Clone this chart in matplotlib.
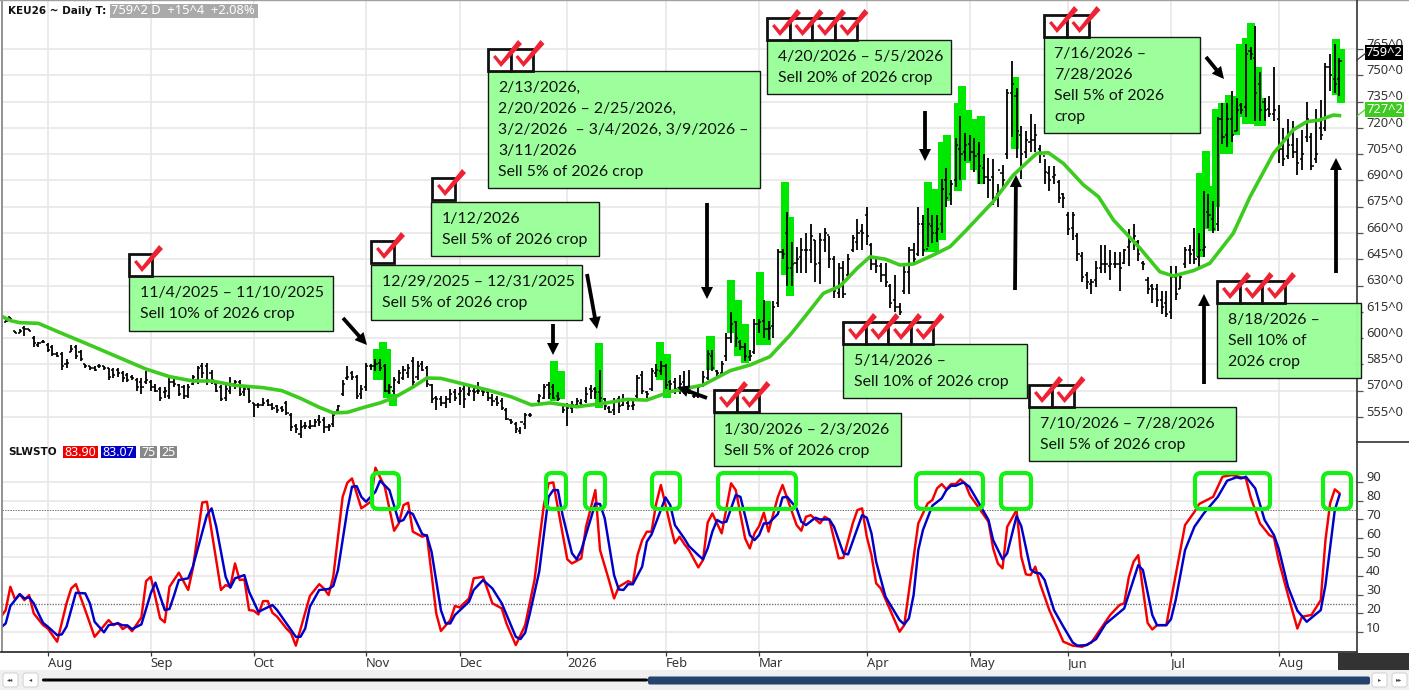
import matplotlib
matplotlib.use("Agg")
import matplotlib.pyplot as plt
from matplotlib.patches import Rectangle, FancyBboxPatch, Polygon
from matplotlib.transforms import ScaledTranslation

W, H = 1409, 690
FONT_BOX = "Lato"
FONT_UI = "Noto Sans"
FONT_BOLD = "DejaVu Sans"

# ------------------------------------------------------------------ data
month_idx = [10, 32, 54, 78, 98, 121, 142, 162, 185, 207, 228, 250, 273]
month_lbl = ["Aug", "Sep", "Oct", "Nov", "Dec", "2026", "Feb", "Mar", "Apr", "May", "Jun", "Jul", "Aug"]
price_ticks = [555, 570, 585, 600, 615, 630, 645, 660, 675, 690, 705, 720, 735, 750, 765]
stoch_ticks = [10, 20, 30, 40, 50, 60, 70, 80, 90]

highs = [609,612,612,604,605,607,605,601,598,599,
597,596,592,592,588,596,596,593,585,584,
584,585,584,583,583,583,581,580,579,577,
577,581,576,574,572,572,577,577,574,573,
574,579,584,586,586,582,575,573,573,578,
576,576,572,572,563,563,566,565,563,562,
561,564,557,551,553,552,553,554,556,555,
551,557,562,576,584,581,579,573,586,585,
588,588,585,574,578,582,584,585,589,587,
587,584,574,567,567,567,571,571,572,573,
572,572,575,571,570,568,567,566,560,554,
552,549,557,557,563,568,574,575,574,569,
563,563,564,566,565,572,573,572,582,566,
561,566,567,568,564,564,579,581,570,583,
585,587,585,576,577,579,581,582,568,573,
581,593,593,582,587,603,615,610,599,597,
593,611,611,622,610,621,651,651,672,655,
652,657,660,665,656,660,663,658,647,643,
644,648,659,668,665,675,654,645,643,643,
631,636,620,641,652,654,675,670,674,670,
670,691,697,690,714,727,717,716,714,712,
705,703,702,688,699,742,758,743,721,718,
728,722,710,702,698,698,690,683,672,672,
660,649,638,634,644,653,653,650,649,649,
651,662,665,656,644,635,631,631,627,627,
641,641,637,652,653,663,660,684,682,678,
726,734,734,741,737,734,768,766,778,752,
737,738,755,733,720,725,724,714,719,735,
717,731,736,757,762,768,760]

lows = [606,609,610,603,603,601,604,595,595,597,
592,590,589,582,583,592,588,587,583,582,
581,583,582,576,577,578,575,575,576,570,
568,574,570,569,564,566,565,572,567,565,
566,573,574,577,573,574,569,564,564,568,
571,567,567,563,555,560,561,561,559,557,
558,556,547,546,543,548,548,549,550,546,
547,549,558,567,576,576,565,565,570,582,
581,581,569,568,568,574,576,577,572,576,
581,572,563,559,561,560,563,564,562,560,
567,564,568,567,564,561,561,559,553,551,
546,545,548,555,561,563,565,565,565,564,
557,550,557,561,561,563,565,565,563,559,
557,556,557,561,559,559,566,568,566,570,
578,579,571,570,568,568,568,568,566,566,
572,576,581,577,579,587,597,595,593,587,
587,591,603,600,599,600,618,645,630,630,
637,637,637,643,632,631,649,640,623,623,
623,635,649,650,650,653,639,637,632,629,
617,615,613,625,625,642,647,647,652,654,
655,660,675,676,686,690,701,701,695,688,
688,680,676,675,686,702,715,703,691,703,
706,706,700,688,684,688,677,674,659,656,
644,632,628,625,629,637,637,633,640,627,
642,641,650,644,639,625,620,618,614,612,
611,622,628,640,642,642,640,646,663,660,
661,711,709,712,718,728,726,759,724,724,
724,726,724,700,698,702,703,693,696,712,
696,700,713,718,741,740,738]

opens = [608,609,612,604,603,606,605,600,596,598,
596,595,591,591,585,592,595,592,585,584,
583,584,584,583,582,582,580,579,578,576,
575,575,575,572,571,569,567,575,573,572,
567,574,576,584,584,580,574,572,566,570,
574,575,569,571,563,562,562,564,562,561,
560,563,556,550,545,550,549,550,553,553,
549,551,559,568,577,580,578,568,572,584,
584,586,584,570,570,575,577,580,587,578,
585,583,573,566,565,563,565,569,568,571,
568,570,570,570,569,566,565,564,559,553,
551,547,551,556,562,564,566,573,572,567,
562,561,560,562,563,564,571,571,569,565,
560,559,565,562,563,561,567,579,569,571,
580,581,584,575,575,570,575,570,567,567,
573,577,590,581,580,590,600,609,598,595,
589,592,608,610,605,607,620,649,660,640,
643,646,650,650,656,643,656,659,645,626,
640,636,650,655,661,670,653,642,641,636,
630,622,618,627,638,650,648,665,651,664,
660,665,690,682,690,708,706,711,706,705,
697,692,692,682,694,705,740,738,716,706,
712,713,708,704,694,692,689,682,670,663,
658,647,636,631,633,640,642,641,642,642,
643,652,656,655,643,633,630,628,622,620,
615,635,628,642,650,650,646,650,672,668,
665,725,716,725,718,733,732,764,760,745,
735,731,728,725,708,704,710,706,702,715,
715,702,720,720,755,748,748]

closes = [607,610,611,603,604,605,604,597,597,598,
593,591,590,584,586,594,590,588,584,583,
582,584,583,578,579,580,577,576,577,572,
572,576,572,570,566,570,575,574,568,567,
572,578,583,580,576,576,570,565,571,574,
575,568,571,564,562,562,563,562,560,559,
559,557,549,548,549,550,550,552,552,549,
550,556,561,574,578,578,567,571,584,584,
585,583,570,572,576,580,582,583,575,584,
582,574,565,565,563,565,568,566,570,565,
570,569,570,569,566,564,563,560,554,552,
548,552,556,556,562,567,572,568,566,565,
559,560,562,564,562,568,570,569,566,561,
558,564,561,565,561,562,577,570,568,581,
582,584,573,574,571,574,571,571,567,572,
578,591,583,580,585,600,608,600,595,590,
590,608,609,605,606,618,649,648,640,642,
645,650,650,658,642,656,660,645,627,640,
625,645,657,660,660,658,642,641,636,632,
620,618,615,638,650,645,665,650,665,660,
662,685,680,688,710,705,710,706,704,698,
692,690,680,696,690,740,745,718,705,713,
713,716,705,695,690,693,680,680,662,670,
648,635,632,632,640,642,642,642,642,640,
650,655,658,648,642,628,628,622,618,614,
635,625,635,650,648,645,650,652,670,662,
725,715,725,716,730,730,762,762,740,730,
730,728,730,708,702,710,706,700,705,725,
698,705,716,755,750,745,758]

sell_idx = [80.3,81.6,82.4,83.8,118.1,119.6,127.7,140.8,142.3,151.6,155.9,157.4,159,162.2,163.6,167.5,168.6,
            198,199.6,201,202.2,204.4,205.3,206.7,207.9,209.4,216.6,256.3,257.4,258.8,259.7,260.9,262.3,
            263.9,264.7,266,267,268.5,269.4,285.3,286.3]
sell_hi = [594,598,594,568,587,581,597,598,591,601,633,622,608,638,621,689,669,
           689,685,712,716,734,744,730,725,727,749,694,707,687,731,734,739,
           738,768,771,780,755,737,770.5,765]
sell_lo = [576,576,566,561,564,565,560,576,566,582,603,590,586,596,596,636,624,
           649,649,656,678,684,690,700,696,688,708,646,662,661,675,705,705,
           716,726,722,722,721,721,739,734]

ma_idx = [0,2,4,8,13,19,24,31,36,41,45,50,56,60,64,68,71,74,78,81,84,88,91,94,97,100,104.5,109,113.4,117.3,123,128.7,133.7,138,143,150,
          155.8,160,164.3,168.6,172,175.7,179.3,183,185.7,189,192.1,195,199.2,202.8,206.3,212,216.3,221.3,223.8,227,231.3,234.5,237.7,
          243.4,247.6,250.5,254.8,258.3,263.3,266.9,271.9,276.1,279,281.8,284.7,286]
ma_val = [612.6,610,608.8,608.4,602.7,596,590.3,582.3,578,575.5,575.5,573,571.7,570,565.6,560.5,557.3,557.6,560.8,563,566,572,577.2,577,575,573,570,566.5,561.8,563,560.8,562.7,565,564.6,569.4,573.2,
          581.4,584.6,589.4,601.7,613,625.5,629.7,640,646.4,645,641.7,642.3,647.4,652.2,661.7,677.9,693,705.4,705.8,699.7,687.4,680.7,667.4,
          651.2,637.9,635.4,638.5,642.7,659.8,680.7,705.4,718.8,723.5,724.5,727.3,727]

red_idx = [0,1,2,3,4,5,6,7,9,10,12,14,15,16,18,20,23,24,25,26,27,28,30,31,32,34,35,36,38,40,41,43,44,47,48,49,50,51,52,53,54,55,56,57,58,59,61,62,63,66,68,69,70,71,73,74,75,77,79,80,82,84,85,86,87,88,90,91,93,94,96,97,98,100,
           101,103,105,107,108,110,112,114,115,116,117,118,120,121,122,124,125,127,128,130,131,132,134,135,136,137,138,139,140,141,143,144,145,146,147,149,150,151,152,154,156,157,159,160,161,162,163,164,166,167,170,171,172,173,175,176,177,179,180,182,183,184,185,186,187,188,192,193,196,198,199,200,
           201,202,203,204,205,206,207,209,211,212,213,214,215,217,218,219,220,221,222,224,227,229,231,233,236,237,239,240,241,242,243,245,246,247,249,250,252,253,255,256,259,261,263,266,267,269,271,272,273,275,277,278,280,282,283,284,285,286]
red_val = [18.3,21.8,34.2,27.5,30.2,27.1,29.8,20,13.8,12,5,25.4,33.3,35.6,21.8,7.6,16.5,13.8,15,11.7,13.3,10.6,17.9,37.2,39.5,17.4,15.3,34.2,41.7,32.5,44,79,79.4,32.5,35.1,34.2,46.6,37.8,38.1,21.8,21.5,19.5,26.6,26.6,20.4,18.3,12,9.4,2.9,29.3,35.6,33.3,29.8,39.5,82,89.5,91.8,75.9,79.4,97.5,87.4,64,67.9,77.6,78.9,63.5,60.8,61.7,20,10.7,16.5,24,23.2,28,
           38.7,39.5,25.4,22.7,14.7,3.2,13.8,37.8,58.2,77.6,89.2,89.7,62.6,48.8,46.6,49.3,66.1,85.6,53.7,36.9,28,34.2,37.2,36,51,59,63.5,63.5,78.5,88.3,67,57.3,60.8,56.9,53.7,44.5,48.4,68.4,73.2,62.6,89.2,85.6,59.9,54.6,62.6,66.5,73.6,63.5,82,88.3,67,64,71.4,72.3,67.9,71.4,70,49.3,49.6,67.9,75,75.9,60.8,51,36,33.3,10.3,13.8,67.9,78.5,80.3,86.5,
           88.8,86,88.8,88.8,91.3,89.2,83,75.9,68.8,54.6,46.6,44,66.1,75,50.2,40.8,40.4,44.9,36,21.8,5,2.9,2.3,4.6,15.6,19.2,24.5,25.4,39.5,47.5,51,15,11.5,13.8,13.8,27.1,53.7,67,74,78.2,82,92.7,93.6,91.8,82,67.9,61.7,60.3,48.4,29.8,12,18.3,19.2,27.1,59,78.5,86,83.9]

blue_idx = [0,1,2,3,4,5,6,7,8,9,10,12,13,14,16,18,19,20,22,23,25,26,27,28,30,32,33,35,36,37,38,40,41,44,45,46,48,49,50,52,53,55,58,59,61,63,64,65,66,68,70,71,72,74,75,76,77,78,80,81,83,85,86,87,88,90,91,92,94,95,96,97,100,
            101,103,105,107,110,111,112,113,115,117,118,119,120,122,123,124,127,128,129,131,132,133,134,135,137,138,139,142,143,144,146,147,149,150,151,152,153,154,155,157,158,160,161,162,163,164,166,167,168,170,171,172,174,175,177,178,180,181,184,185,186,187,189,192,193,194,195,196,197,199,201,
            202,203,204,205.6,206.9,209,211,212,214,215,217,218,220,221,222,223,225,227,229,230,232,234,236,240,243,244,246,247,249,250,251,253,255,257,260,262,264,265,266,268,270,272,273,275,277,279,282,283,285,286]
blue_val = [12.6,14.7,24,27.1,30.3,28,28.6,25.4,20,15,13,8.5,8.9,13,31,30.7,25.4,15.6,10,13.8,14.7,13.7,13.7,11.7,14.2,30.7,36.4,21.8,22.4,29.8,37.8,38.7,44.9,72.3,75.9,66.1,39.5,33.7,38.7,40.4,31.6,20.9,24.5,21.8,14.7,7.6,7.6,12,23.6,32.5,33,34.6,43.1,75,87.4,87.7,82,79.4,84.7,90.6,85.6,68.8,69.7,74.1,72.9,62.2,61.3,52.8,21.8,14.7,14.7,19.2,26.3,
            32.5,37.8,33.3,25.4,7.6,6.4,9.8,20,42.2,82,85.6,85.6,72.3,52,48.8,53.7,78.5,78.2,70.6,40.4,32.8,32.5,35.6,35.5,44.9,58.2,62,81.7,77.6,67,59.9,55.8,51,48.8,54.6,63.5,69.7,68.3,68.8,83,82,61.7,59,61.7,67.9,67.9,72.9,81.7,82,75.9,68.8,67,70.9,70,70,66.1,52,51.4,72.3,70.9,62.6,47.5,28.9,16.5,14.2,17.4,29.8,53.7,64.4,77.3,81.2,
            85.6,87.9,87.9,89.7,87.4,78.5,69.7,59,48.8,52,71.8,66.5,43.4,41.7,41.3,37.8,21.8,13,4.6,2.9,3.2,6.4,14.4,22.7,45.7,43.1,19.2,13.8,13.8,17,27.1,53.7,66.1,73.2,82,90.6,92.4,91.8,92.7,86.5,69.7,61.7,54.6,34.2,21.5,15.6,21.8,35.1,75,83]

stoch_upper, stoch_lower = 75, 25

# annotation contents
boxes = [
    ((129, 276, 333, 331), "11/4/2025 – 11/10/2025\nSell 10% of 2026 crop"),
    ((371, 265, 582, 320), "12/29/2025 – 12/31/2025\nSell 5% of 2026 crop"),
    ((431, 202, 599, 256), "1/12/2026\nSell 5% of 2026 crop"),
    ((488, 71, 760, 188), "2/13/2026,\n2/20/2026 – 2/25/2026,\n3/2/2026  – 3/4/2026, 3/9/2026 –\n3/11/2026\nSell 5% of 2026 crop"),
    ((714, 413, 901, 466), "1/30/2026 – 2/3/2026\nSell 5% of 2026 crop"),
    ((767, 40, 951, 94), "4/20/2026 – 5/5/2026\nSell 20% of 2026 crop"),
    ((843, 344, 1027, 398), "5/14/2026 –\nSell 10% of 2026 crop"),
    ((1029, 407, 1236, 461), "7/10/2026 – 7/28/2026\nSell 5% of 2026 crop"),
    ((1044, 37, 1200, 133), "7/16/2026 –\n7/28/2026\nSell 5% of 2026\ncrop"),
    ((1217, 303, 1361, 378), "8/18/2026 –\nSell 10% of\n2026 crop"),
]
checks = [(129, 254, 1), (371, 241, 1), (432, 178, 1), (488, 49, 2), (714, 390, 2),
          (767, 18, 4), (843, 322, 4), (1029, 385, 2), (1044, 15, 2), (1217, 281, 3)]
arrows = [((343, 318), (367, 345)), ((553, 324), (553, 355)), ((587, 274), (597, 329)),
          ((707, 203), (707, 299)), ((707, 398), (677, 387)), ((925, 111), (925, 161)),
          ((1015, 290), (1016, 175)), ((1204, 384), (1204, 294)), ((1206, 57), (1224, 79)),
          ((1336, 273), (1336, 158))]
round_boxes = [(372, 399), (546, 566), (585, 605), (652, 680), (718, 796),
               (916, 983), (1001, 1031), (1195, 1270), (1323, 1351)]

# ------------------------------------------------------------------ layout
fig = plt.figure(figsize=(W / 100, H / 100), dpi=100, facecolor="white")
def ax_px(x0, y0, x1, y1, **kw):
    return fig.add_axes([x0 / W, 1 - y1 / H, (x1 - x0) / W, (y1 - y0) / H], **kw)

ax = ax_px(2, 0, 1357, 442)
ax2 = ax_px(2, 442, 1357, 652)
x_lim = ((2 - 1) / 4.68, (1357 - 1) / 4.68)
GRID = "#e7e7e7"
TXT = "#333333"

for a in (ax, ax2):
    a.set_xlim(*x_lim)
    a.set_xticks(month_idx)
    a.grid(True, color=GRID, lw=1.2)
    a.set_axisbelow(True)
    a.yaxis.tick_right()
    for s in a.spines.values():
        s.set_visible(False)

def raise_labels(a, px):
    shift = ScaledTranslation(0, px / 100, fig.dpi_scale_trans)
    for t in a.yaxis.get_major_ticks():
        t.label2.set_verticalalignment("center")
        t.label2.set_transform(t.label2.get_transform() + shift)

# price panel
ax.set_ylim(765 - (442 - 49) / 1.752, 765 + 49 / 1.752)
ax.set_yticks(price_ticks)
ax.set_yticklabels([f"{p}^0" for p in price_ticks], fontsize=9.3, family=FONT_UI, color=TXT)
ax.tick_params(axis="y", length=4, width=0.9, color="#555555", pad=2.5)
ax.tick_params(axis="x", length=0, labelbottom=False)
raise_labels(ax, 4.7)

ax.bar(sell_idx, [h - l for h, l in zip(sell_hi, sell_lo)], bottom=sell_lo, width=1.72,
       color="#00e800", zorder=2)
xs = list(range(len(highs)))
ax.vlines(xs, lows, highs, color="black", lw=1.3, zorder=3)
ax.hlines(opens, [x - 0.45 for x in xs], xs, color="black", lw=1.1, zorder=3)
ax.hlines(closes, xs, [x + 0.45 for x in xs], color="black", lw=1.1, zorder=3)
ax.plot(ma_idx, ma_val, color="#3ccb1e", lw=2.6, zorder=4, solid_joinstyle="round")

# stochastic panel
ax2.set_ylim(10 - (652 - 632.3) / 1.881, 10 + (632.3 - 442) / 1.881)
ax2.set_yticks(stoch_ticks)
ax2.set_yticklabels([str(v) for v in stoch_ticks], fontsize=9.3, family=FONT_UI, color=TXT)
ax2.set_xticklabels(month_lbl, fontsize=9.3, family=FONT_UI, color=TXT)
ax2.tick_params(axis="y", length=4, width=0.9, color="#555555", pad=2.5)
ax2.tick_params(axis="x", length=3, width=0.9, color="#333333", pad=0.3)
raise_labels(ax2, 4)
for lb in ax2.get_xticklabels():
    lb.set_ha("left")
ax2.axhline(stoch_upper, color="#777777", lw=0.7, ls=(0, (1.5, 1.2)), zorder=2)
ax2.axhline(stoch_lower, color="#777777", lw=1.0, ls=(0, (1, 1)), zorder=2)
ax2.plot(red_idx, red_val, color="#f50000", lw=1.75, zorder=3, solid_joinstyle="round")
ax2.plot(blue_idx, blue_val, color="#0000c8", lw=1.75, zorder=4, solid_joinstyle="round")

# ------------------------------------------------------------------ overlay in pixels
ov = fig.add_axes([0, 0, 1, 1], zorder=10)
ov.set_xlim(0, W)
ov.set_ylim(H, 0)
ov.axis("off")
ov.patch.set_alpha(0)

def rect(x0, y0, x1, y1, **kw):
    kw.setdefault("lw", 0)
    ov.add_patch(Rectangle((x0, y0), x1 - x0, y1 - y0, **kw))

# frame and chrome
ov.plot([1.5, 1.5], [0, 652], color="#8a8a8a", lw=1.3)
ov.plot([0, W], [0.3, 0.3], color="#a0a0a0", lw=1)
ov.plot([1357, 1357], [0, 652], color="#333333", lw=1.2)
ov.plot([1, 1357], [652, 652], color="#333333", lw=1.3)
ov.plot([1357, W], [442, 442], color="#333333", lw=1.2)
rect(1338, 653, W, 669.5, fc="#333333")
rect(0, 670, W, H, fc="#f0f0f0")
ov.add_patch(FancyBboxPatch((42, 678.5), 606, 3, boxstyle="round,pad=0,rounding_size=1.5", fc="black", lw=0))
ov.add_patch(FancyBboxPatch((648, 676.5), 722, 8, boxstyle="round,pad=0,rounding_size=2", fc="#24446e", lw=0))
for bx, s in [(3, "◂◂"), (23, "◂"), (1372, "▸"), (1392, "▸▸")]:
    ov.add_patch(FancyBboxPatch((bx, 673), 15, 14, boxstyle="round,pad=0,rounding_size=2.5", fc="white", ec="#d4d4d4", lw=0.8))
    ov.text(bx + 7.5, 680, s, ha="center", va="center", fontsize=4.5, color="#444444", family="DejaVu Sans")

# header
ov.text(8, 11, "KEU26 ~ Daily T:", fontsize=7.5, fontweight="bold", family=FONT_BOLD, va="center", color="#111111")
rect(110, 4, 258, 18, fc="#aaaaaa")
ov.text(111, 11, "759^2 D  +15^4  +2.08%", fontsize=9.3, family=FONT_UI, va="center", color="white")
ov.text(8, 452, "SLWSTO", fontsize=7.6, fontweight="bold", family=FONT_BOLD, va="center", color="#111111")
for x0, x1, c, s in [(63, 98, "#f00000", "83.90"), (101, 136, "#0000c8", "83.07"), (140, 157, "#888888", "75"), (160, 177, "#888888", "25")]:
    rect(x0, 446, x1, 458, fc=c)
    ov.text((x0 + x1) / 2, 452, s, fontsize=9.0, family=FONT_UI, ha="center", va="center", color="white")

# last-value tags
ov.plot([1357, 1366], [60, 53], color="#333333", lw=0.8)
rect(1365, 45, 1403, 60, fc="black")
ov.text(1384, 52.5, "759^2", fontsize=9.3, family=FONT_UI, ha="center", va="center", color="white")
ov.plot([1357, 1366], [116, 109], color="#3ccb1e", lw=0.8)
rect(1365, 102, 1404, 117, fc="#3ccb1e")
ov.text(1384.5, 109.5, "727^2", fontsize=9.3, family=FONT_UI, ha="center", va="center", color="white")

# rounded lime boxes on the oscillator
for x0, x1 in round_boxes:
    ov.add_patch(FancyBboxPatch((x0, 473), x1 - x0, 36, boxstyle="round,pad=0,rounding_size=6",
                                fc="none", ec="#14f014", lw=3))

# arrows
for (x0, y0), (x1, y1) in arrows:
    ov.arrow(x0, y0, x1 - x0, y1 - y0, width=3.8, head_width=12, head_length=12,
             length_includes_head=True, fc="black", ec="none", zorder=5)

# note boxes
for (x0, y0, x1, y1), txt in boxes:
    rect(x0, y0, x1, y1, fc="#99ff99", ec="#111111", lw=1.0, alpha=0.97, zorder=6)
    for k, line in enumerate(txt.split("\n")):
        ov.text(x0 + 10.5, y0 + 17 + k * 21, line, fontsize=11.4, family=FONT_BOX, va="center", color="#111111", zorder=7)

# check boxes
for bx0, by0, n in checks:
    for k in range(n):
        bx = bx0 + k * 22.5
        rect(bx, by0, bx + 22.5, by0 + 22, fc="white", ec="#111111", lw=2.0, zorder=8)
    for k in range(n):
        bx = bx0 + k * 22.5
        pts = [(5, 8), (7.5, 6), (13, 12.5), (30, -9), (34, -5), (13, 18)]
        ov.add_patch(Polygon([(bx + a, by0 + b) for a, b in pts], closed=True, fc="#ee2233", ec="none", zorder=9))

fig.savefig("out.png", dpi=100)
